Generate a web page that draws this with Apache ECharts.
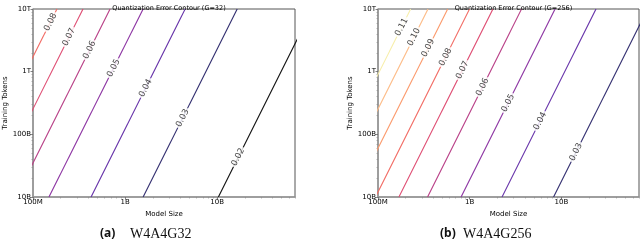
<!DOCTYPE html>
<html><head><meta charset="utf-8">
<script src="https://cdn.jsdelivr.net/npm/echarts@6/dist/echarts.min.js"></script>
<style>html,body{margin:0;padding:0;background:#fff}#c{width:640px;height:245px}</style>
</head><body><div id="c"></div>
<script>
// ---- axis ticks ----
const xTickValues = [1e8, 1e9, 1e10];
const xTickLabels = ['100M', '1B', '10B'];
const yTickValues = [1e10, 1e11, 1e12, 1e13];
const yTickLabels = ['10B', '100B', '1T', '10T'];
const minorMultipliers = [2, 3, 4, 5, 6, 7, 8, 9];
const xDecades = [1e8, 1e9, 1e10];
const yDecades = [1e10, 1e11, 1e12];
const xRange = [1e8, 7e10];
const yRange = [1e10, 1e13];

// ---- panel (a) G=32 : contour levels, each line through (N at 10B tokens) and (N at 10T tokens) ----
const g32Levels = ['0.08', '0.07', '0.06', '0.05', '0.04', '0.03', '0.02'];
const g32ModelSizeAt10B = [1.73e7, 3.32e7, 6.53e7, 1.49e8, 4.27e8, 1.57e9, 1.03e10];
const g32ModelSizeAt10T = [1.82e8, 3.49e8, 6.87e8, 1.57e9, 4.49e9, 1.65e10, 1.08e11];
const g32LabelModelSize = [1.55e8, 2.46e8, 4.11e8, 7.50e8, 1.67e9, 4.22e9, 1.69e10];
const g32LabelTokens = [6.19e12, 3.57e12, 2.22e12, 1.14e12, 5.48e11, 1.82e11, 4.35e10];

// ---- panel (b) G=256 ----
const g256Levels = ['0.11', '0.10', '0.09', '0.08', '0.07', '0.06', '0.05', '0.04', '0.03'];
const g256ModelSizeAt10B = [2.15e7, 3.31e7, 5.43e7, 9.4e7, 1.69e8, 3.47e8, 8.04e8, 2.25e9, 8.2e9];
const g256ModelSizeAt10T = [2.27e8, 3.51e8, 5.75e8, 9.95e8, 1.79e9, 3.67e9, 8.51e9, 2.38e10, 8.69e10];
const g256LabelModelSize = [1.81e8, 2.47e8, 3.52e8, 5.45e8, 8.34e8, 1.38e9, 2.62e9, 5.85e9, 1.44e10];
const g256LabelTokens = [5.16e12, 3.57e12, 2.39e12, 1.71e12, 1.06e12, 5.69e11, 3.16e11, 1.63e11, 5.22e10];

// ---- styles ----
const levelColor = {
  '0.11': '#f7eea8', '0.10': '#fdbb86', '0.09': '#fb9a6c', '0.08': '#f26a63',
  '0.07': '#de4a70', '0.06': '#b83e86', '0.05': '#8c33a2', '0.04': '#6530a8',
  '0.03': '#332f70', '0.02': '#111111'
};
const FONT = 'DejaVu Sans';
const FS = 7;
const panels = [
  { left: 33, width: 262, title: 'Quantization Error Contour (G=32)',
    levels: g32Levels, n10B: g32ModelSizeAt10B, n10T: g32ModelSizeAt10T,
    lx: g32LabelModelSize, ly: g32LabelTokens },
  { left: 378, width: 261, title: 'Quantization Error Contour (G=256)',
    levels: g256Levels, n10B: g256ModelSizeAt10B, n10T: g256ModelSizeAt10T,
    lx: g256LabelModelSize, ly: g256LabelTokens }
];

const minorX = [], minorY = [];
xDecades.forEach(d => minorMultipliers.forEach(m => minorX.push(d * m)));
yDecades.forEach(d => minorMultipliers.forEach(m => minorY.push(d * m)));

function fmt(values, labels) {
  return v => { const i = values.findIndex(t => Math.abs(t - v) / t < 1e-6); return i >= 0 ? labels[i] : ''; };
}

const grid = [], xAxis = [], yAxis = [], series = [], title = [];
panels.forEach((p, gi) => {
  grid.push({ left: p.left, width: p.width, top: 9, bottom: 48, show: true,
    borderColor: '#555', borderWidth: 1, backgroundColor: 'transparent' });
  title.push({ text: p.title, left: p.left + p.width / 2, textAlign: 'center', top: 0,
    textStyle: { fontFamily: FONT, fontSize: 6.5, fontWeight: 'normal', color: '#000' } });
});
// main axes
panels.forEach((p, gi) => {
  xAxis.push({ type: 'log', logBase: 10, gridIndex: gi, min: xRange[0], max: xRange[1], position: 'bottom',
    name: 'Model Size', nameLocation: 'middle', nameGap: 12,
    nameTextStyle: { fontFamily: FONT, fontSize: FS, color: '#000' },
    axisLine: { show: true, lineStyle: { color: '#9a9a9a', width: 1.5 } },
    axisTick: { show: true, length: 2.5, customValues: xTickValues, lineStyle: { color: '#666', width: 0.8 } },
    axisLabel: { customValues: xTickValues, formatter: fmt(xTickValues, xTickLabels), margin: 2,
      fontFamily: FONT, fontSize: FS, color: '#000' },
    splitLine: { show: false }, minorTick: { show: false } });
  yAxis.push({ type: 'log', logBase: 10, gridIndex: gi, min: yRange[0], max: yRange[1], position: 'left',
    name: 'Training Tokens', nameLocation: 'middle', nameGap: 20,
    nameTextStyle: { fontFamily: FONT, fontSize: FS, color: '#000' },
    axisLine: { show: true, lineStyle: { color: '#9a9a9a', width: 1.5 } },
    axisTick: { show: true, length: 2.5, customValues: yTickValues, lineStyle: { color: '#666', width: 0.8 } },
    axisLabel: { customValues: yTickValues, formatter: fmt(yTickValues, yTickLabels), margin: 2,
      fontFamily: FONT, fontSize: FS, color: '#000' },
    splitLine: { show: false }, minorTick: { show: false } });
});
// minor tick axes
panels.forEach((p, gi) => {
  xAxis.push({ type: 'log', logBase: 10, gridIndex: gi, min: xRange[0], max: xRange[1], position: 'bottom',
    axisLine: { show: false }, axisLabel: { show: false }, splitLine: { show: false },
    axisTick: { show: true, length: 1.5, customValues: minorX, lineStyle: { color: '#888', width: 0.6 } } });
  yAxis.push({ type: 'log', logBase: 10, gridIndex: gi, min: yRange[0], max: yRange[1], position: 'left',
    axisLine: { show: false }, axisLabel: { show: false }, splitLine: { show: false },
    axisTick: { show: true, length: 1.5, customValues: minorY, lineStyle: { color: '#888', width: 0.6 } } });
});
// contour lines and labels
panels.forEach((p, gi) => {
  p.levels.forEach((lv, i) => {
    series.push({ type: 'line', xAxisIndex: gi, yAxisIndex: gi, clip: true, symbol: 'none', silent: true,
      z: 2, lineStyle: { color: levelColor[lv], width: 1.1 },
      data: [[p.n10B[i], yRange[0]], [p.n10T[i], yRange[1]]] });
  });
  series.push({ type: 'scatter', xAxisIndex: gi, yAxisIndex: gi, z: 5, symbol: 'circle', symbolSize: 2,
    itemStyle: { color: 'rgba(0,0,0,0)' }, silent: true, clip: false,
    data: p.levels.map((lv, i) => [p.lx[i], p.ly[i], lv]),
    labelLayout: { hideOverlap: false },
    label: { show: true, position: 'inside', rotate: 63, formatter: q => q.value[2],
      backgroundColor: '#fff', padding: [0, 1.5], fontFamily: FONT, fontSize: 8.5, color: '#111' } });
});

const chart = echarts.init(document.getElementById('c'), null, { renderer: 'canvas' });
chart.setOption({
  animation: false, backgroundColor: '#fff', title, grid, xAxis, yAxis, series,
  graphic: [
    { type: 'text', left: 100, top: 228, style: { text: '(a)', font: 'bold 12px "Noto Sans"', fill: '#111' } },
    { type: 'text', left: 130, top: 227, style: { text: 'W4A4G32', font: '14px "Liberation Serif"', fill: '#111' } },
    { type: 'text', left: 440, top: 228, style: { text: '(b)', font: 'bold 12px "Noto Sans"', fill: '#111' } },
    { type: 'text', left: 463, top: 227, style: { text: 'W4A4G256', font: '14px "Liberation Serif"', fill: '#111' } }
  ]
});
</script></body></html>
